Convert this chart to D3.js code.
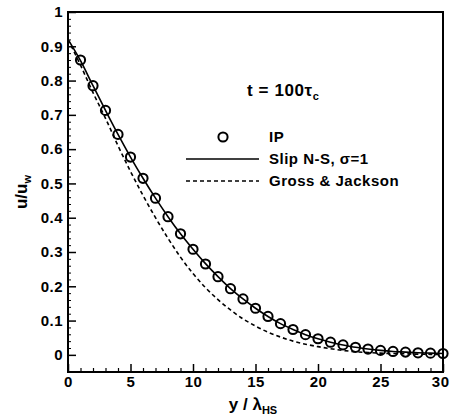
<!DOCTYPE html>
<html>
<head>
<meta charset="utf-8">
<script src="https://cdn.jsdelivr.net/npm/d3@7"></script>
<style>
  html, body { margin: 0; padding: 0; background: #fff; }
  svg { display: block; }
  text { font-family: "Liberation Sans", Arial, Helvetica, sans-serif; font-weight: bold; fill: #000; }
</style>
</head>
<body>
<svg id="chart" width="450" height="418"></svg>
<script>
// Velocity profile u/u_w across the gap at t = 100 tau_c
const ipX = [1,2,3,4,5,6,7,8,9,10,11,12,13,14,15,16,17,18,19,20,21,22,23,24,25,26,27,28,29,30];
const ipU = [0.860,0.785,0.713,0.643,0.577,0.515,0.457,0.403,0.353,0.308,0.265,0.228,0.193,0.163,0.136,0.112,0.091,0.074,0.059,0.047,0.037,0.029,0.022,0.017,0.013,0.010,0.008,0.006,0.005,0.004];

const slipX = [0,1,2,3,4,5,6,7,8,9,10,11,12,13,14,15,16,17,18,19,20,21,22,23,24,25,26,27,28,29,30];
const slipU = [0.920,0.858,0.785,0.713,0.643,0.577,0.515,0.457,0.403,0.353,0.308,0.266,0.228,0.193,0.163,0.136,0.112,0.091,0.074,0.059,0.047,0.037,0.029,0.022,0.017,0.013,0.010,0.008,0.006,0.005,0.004];

const gjX = [0,1,2,3,4,5,6,7,8,9,10,11,12,13,14,15,16,17,18,19,20,21,22,23,24,25,26,27,28,29,30];
const gjU = [0.920,0.845,0.765,0.690,0.610,0.535,0.465,0.400,0.340,0.285,0.237,0.196,0.161,0.131,0.105,0.084,0.066,0.052,0.040,0.031,0.024,0.018,0.013,0.009,0.007,0.005,0.004,0.003,0.002,0.0015,0.001];

const xTicks = [0,5,10,15,20,25,30];
const yTicks = [0,0.1,0.2,0.3,0.4,0.5,0.6,0.7,0.8,0.9,1];
const legendItems = ["IP", "Slip N-S, \u03c3=1", "Gross & Jackson"];

const svg = d3.select("#chart");
const plot = { left: 68, right: 443, top: 12, bottom: 372 };

const x = d3.scaleLinear().domain([0, 30]).range([plot.left, plot.right]);
const y = d3.scaleLinear().domain([-0.05, 1]).range([plot.bottom, plot.top]);

// Frame
svg.append("rect")
  .attr("x", plot.left).attr("y", plot.top)
  .attr("width", plot.right - plot.left).attr("height", plot.bottom - plot.top)
  .attr("fill", "none").attr("stroke", "#000").attr("stroke-width", 2);

// Bottom axis: inward ticks, major every 5, minor every 1
const xAxis = d3.axisBottom(x).tickValues(xTicks).tickSize(-8).tickFormat(d3.format("d"));
const gx = svg.append("g").attr("transform", `translate(0,${plot.bottom})`).call(xAxis);
gx.select(".domain").remove();
gx.selectAll(".tick line").attr("stroke", "#000").attr("stroke-width", 1.5);
gx.selectAll(".tick text").attr("font-size", 15).attr("letter-spacing", 0.5)
  .attr("dy", "0.35em").attr("y", 10)
  .attr("text-anchor", d => d === 30 ? "end" : "middle")
  .attr("x", d => d === 30 ? 449 - x(30) : 0);

const xMinor = d3.axisBottom(x).tickValues(d3.range(0, 31, 1).filter(v => v % 5 !== 0)).tickSize(-4).tickFormat("");
const gxm = svg.append("g").attr("transform", `translate(0,${plot.bottom})`).call(xMinor);
gxm.select(".domain").remove();
gxm.selectAll(".tick line").attr("stroke", "#000").attr("stroke-width", 1.2);

// Left axis: inward ticks, major every 0.1, minor every 0.02
const yAxis = d3.axisLeft(y).tickValues(yTicks).tickSize(-8)
  .tickFormat(d => d === 0 ? "0" : d === 1 ? "1" : d3.format(".1f")(d));
const gy = svg.append("g").attr("transform", `translate(${plot.left},0)`).call(yAxis);
gy.select(".domain").remove();
gy.selectAll(".tick line").attr("stroke", "#000").attr("stroke-width", 1.5);
gy.selectAll(".tick text").attr("font-size", 15).attr("letter-spacing", 0.5).attr("x", -5);

const yMinor = d3.axisLeft(y).tickValues(d3.range(0, 50).map(i => i * 0.02).filter((v, i) => i % 5 !== 0)).tickSize(-3).tickFormat("");
const gym = svg.append("g").attr("transform", `translate(${plot.left},0)`).call(yMinor);
gym.select(".domain").remove();
gym.selectAll(".tick line").attr("stroke", "#000").attr("stroke-width", 1);

// Curves
const line = d3.line().x(d => x(d[0])).y(d => y(d[1])).curve(d3.curveMonotoneX);

svg.append("path")
  .datum(gjX.map((v, i) => [v, gjU[i]]))
  .attr("d", line).attr("fill", "none").attr("stroke", "#000")
  .attr("stroke-width", 1.6).attr("stroke-dasharray", "4,3");

svg.append("path")
  .datum(slipX.map((v, i) => [v, slipU[i]]))
  .attr("d", line).attr("fill", "none").attr("stroke", "#000").attr("stroke-width", 1.6);

svg.append("g").selectAll("circle")
  .data(ipX.map((v, i) => [v, ipU[i]]))
  .join("circle")
  .attr("cx", d => x(d[0])).attr("cy", d => y(d[1])).attr("r", 4.6)
  .attr("fill", "none").attr("stroke", "#000").attr("stroke-width", 2);

// Annotation
const ann = svg.append("text").attr("x", 247).attr("y", 96).attr("font-size", 17).attr("letter-spacing", 0.6);
ann.append("tspan").text("t = 100\u03c4");
ann.append("tspan").attr("font-size", 11).attr("dy", 4).text("c");

// Legend
const lg = svg.append("g");
lg.append("circle").attr("cx", 223).attr("cy", 137).attr("r", 4.6)
  .attr("fill", "none").attr("stroke", "#000").attr("stroke-width", 2);
lg.append("line").attr("x1", 186).attr("x2", 259).attr("y1", 159).attr("y2", 159)
  .attr("stroke", "#000").attr("stroke-width", 1.6);
lg.append("line").attr("x1", 186).attr("x2", 259).attr("y1", 181).attr("y2", 181)
  .attr("stroke", "#000").attr("stroke-width", 1.6).attr("stroke-dasharray", "4,3");
[137, 159, 181].forEach((cy, i) => {
  lg.append("text").attr("x", 269).attr("y", cy).attr("dy", "0.35em")
    .attr("font-size", 15).attr("letter-spacing", 0.5).text(legendItems[i]);
});

// Axis titles
const xt = svg.append("text").attr("x", 253).attr("y", 410).attr("text-anchor", "middle").attr("font-size", 17);
xt.append("tspan").text("y / \u03bb");
xt.append("tspan").attr("font-size", 11).attr("dy", 4).text("HS");

const yt = svg.append("text").attr("transform", "translate(27,192) rotate(-90)")
  .attr("text-anchor", "middle").attr("font-size", 17);
yt.append("tspan").text("u/u");
yt.append("tspan").attr("font-size", 11).attr("dy", 4).text("w");
</script>
</body>
</html>
